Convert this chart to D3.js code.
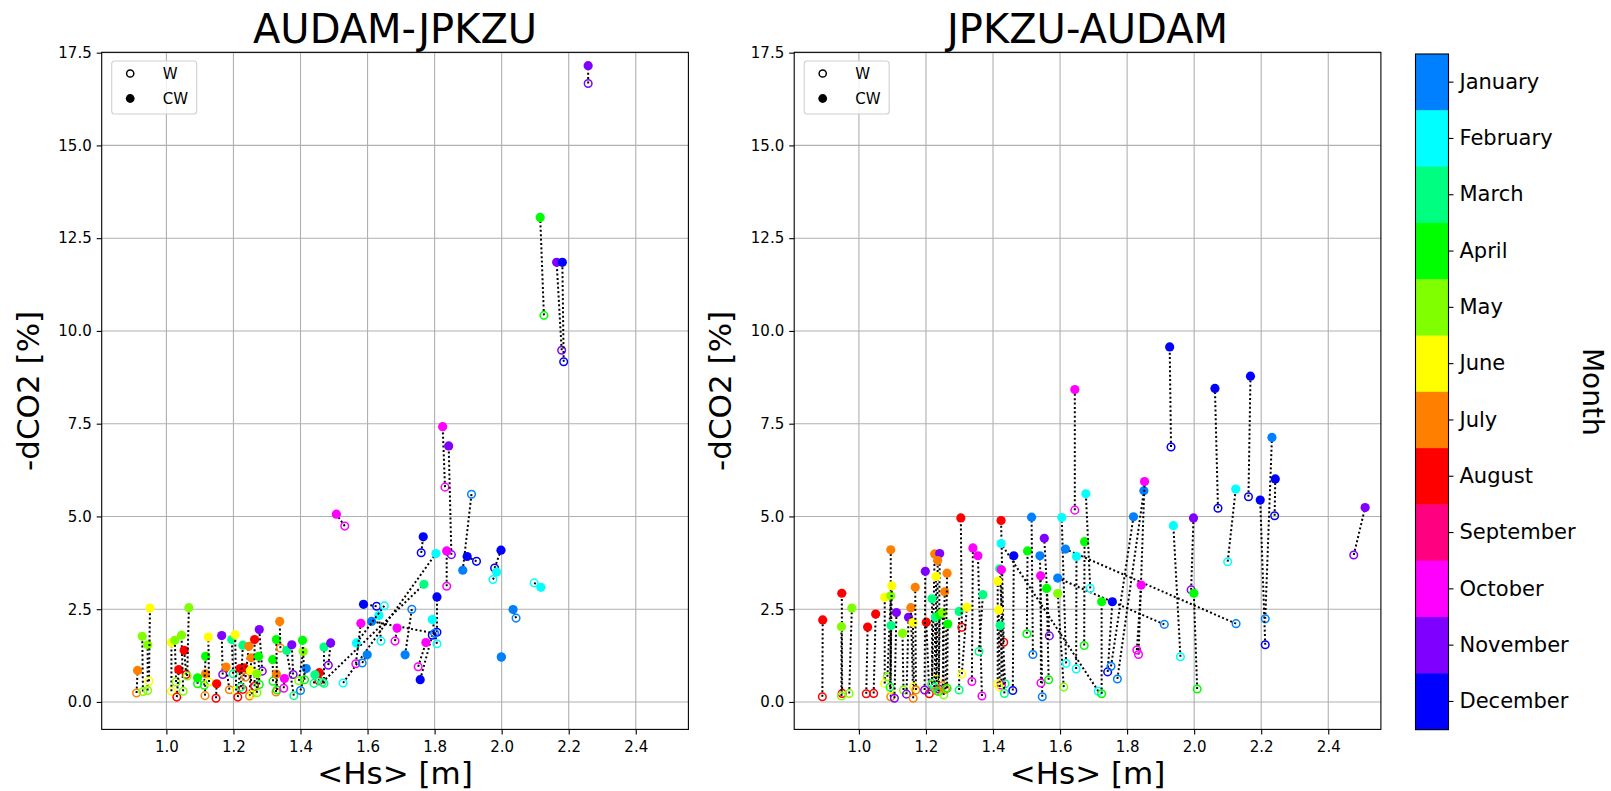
<!DOCTYPE html>
<html>
<head>
<meta charset="utf-8">
<script src="https://cdn.jsdelivr.net/npm/d3@7"></script>
<style>
    body { margin: 0; background: #fff; }
    text { font-family: "DejaVu Sans", sans-serif; }
</style>
</head>
<body>
<svg id="chart" width="1611" height="791"></svg>
<script>
// months in colorbar order, with their colours
var monthNames = ["January", "February", "March", "April", "May", "June", "July",
                  "August", "September", "October", "November", "December"];
var monthColors = ["#0080ff", "#00ffff", "#00ff80", "#00ff00", "#80ff00", "#ffff00",
                   "#ff8000", "#ff0000", "#ff0080", "#ff00ff", "#8000ff", "#0000ff"];

var xTicks = [1.0, 1.2, 1.4, 1.6, 1.8, 2.0, 2.2, 2.4];
var yTicks = [0, 2.5, 5, 7.5, 10, 12.5, 15, 17.5];

// AUDAM-JPKZU : month, <Hs> and -dCO2 for W (open) and CW (filled)
var monthA = [7, 5, 5, 6, 6, 5, 8, 5, 8, 5, 4, 7, 4, 6, 8, 11, 7, 3, 6, 8, 8, 3, 7, 7, 6,
              8, 11, 4, 5, 4, 7, 4, 7, 10, 3, 11, 1, 5, 4, 8, 3, 3, 11, 10, 10, 11, 1, 12,
              2, 10, 12, 12, 2, 2, 1, 1, 3, 12, 2, 12, 1, 12, 2, 2, 1, 10, 10, 1, 10, 4,
              11, 12, 11];
var hsWA = [0.911, 0.930, 0.944, 0.948, 1.015, 1.029, 1.031, 1.050, 1.059, 1.062, 1.093,
            1.115, 1.113, 1.127, 1.148, 1.168, 1.188, 1.199, 1.208, 1.213, 1.228, 1.222,
            1.236, 1.248, 1.256, 1.263, 1.286, 1.277, 1.270, 1.318, 1.327, 1.330, 1.340,
            1.350, 1.380, 1.378, 1.400, 1.395, 1.412, 1.455, 1.440, 1.470, 1.483, 1.532,
            1.831, 1.850, 1.910, 1.760, 1.527, 1.836, 1.925, 1.979, 1.974, 2.097, 2.043,
            1.999, 1.465, 1.807, 1.807, 1.793, 1.800, 1.627, 1.640, 1.650, 1.732, 1.565,
            1.682, 1.584, 1.751, 2.126, 2.179, 2.185, 2.258];
var dco2WA = [0.24, 0.28, 0.31, 0.56, 0.29, 0.54, 0.13, 0.29, 0.74, 0.70, 0.49, 0.17, 0.45,
              0.54, 0.10, 0.74, 0.33, 0.76, 0.31, 0.13, 0.34, 0.40, 0.67, 0.16, 0.21, 0.42,
              0.83, 0.47, 0.25, 0.56, 0.27, 0.32, 1.45, 0.37, 0.17, 0.74, 0.31, 0.57, 0.60,
              0.57, 0.50, 0.50, 0.99, 4.74, 5.79, 3.97, 5.60, 4.02, 0.51, 3.12, 3.79, 3.61,
              3.30, 3.21, 2.26, 1.21, 0.53, 1.88, 1.57, 1.80, 1.85, 2.58, 1.64, 2.59, 2.50,
              1.03, 1.64, 1.05, 0.95, 10.42, 9.48, 9.17, 16.67];
var hsCWA = [0.914, 0.928, 0.944, 0.951, 1.015, 1.025, 1.037, 1.045, 1.053, 1.067, 1.093,
             1.117, 1.117, 1.125, 1.150, 1.165, 1.178, 1.195, 1.205, 1.220, 1.232, 1.228,
             1.246, 1.253, 1.250, 1.263, 1.277, 1.275, 1.270, 1.317, 1.328, 1.328, 1.338,
             1.352, 1.359, 1.374, 1.417, 1.408, 1.406, 1.456, 1.443, 1.470, 1.490, 1.507,
             1.824, 1.842, 1.884, 1.766, 1.804, 1.836, 1.897, 1.998, 1.985, 2.117, 2.034,
             1.999, 1.768, 1.807, 1.793, 1.757, 1.612, 1.588, 1.634, 1.567, 1.712, 1.580,
             1.688, 1.599, 1.774, 2.115, 2.164, 2.181, 2.258];
var dco2CWA = [0.85, 1.77, 1.54, 2.53, 1.60, 1.66, 0.87, 1.80, 1.39, 2.54, 0.65, 0.76, 1.23,
               1.75, 0.49, 1.79, 0.94, 1.68, 1.81, 0.90, 0.92, 1.53, 1.50, 1.19, 0.85, 1.68,
               1.95, 1.23, 0.76, 1.14, 0.75, 1.68, 2.17, 0.63, 1.39, 1.54, 0.90, 1.36, 1.66,
               0.79, 0.73, 1.48, 1.59, 5.06, 7.42, 6.90, 3.55, 4.45, 4.00, 4.07, 3.92, 4.09,
               3.50, 3.09, 2.49, 1.21, 3.17, 2.83, 2.22, 0.60, 2.17, 2.63, 2.33, 1.59, 1.27,
               2.12, 1.99, 1.27, 1.60, 13.06, 11.85, 11.85, 17.15];

// JPKZU-AUDAM
var monthB = [8, 8, 5, 5, 8, 8, 7, 6, 5, 6, 3, 11, 5, 11, 7, 6, 7, 8, 11, 7, 11, 7, 6, 3, 3,
              4, 5, 7, 7, 4, 3, 8, 6, 10, 10, 3, 8, 2, 3, 10, 6, 6, 3, 12, 4, 1, 11, 1, 10,
              4, 1, 5, 2, 1, 10, 2, 4, 2, 4, 12, 1, 1, 10, 10, 12, 2, 11, 4, 12, 2, 12, 1,
              12, 12, 11];
var hsWB = [0.891, 0.950, 0.948, 0.971, 1.022, 1.044, 1.095, 1.077, 1.085, 1.094, 1.093,
            1.106, 1.133, 1.142, 1.162, 1.164, 1.170, 1.210, 1.196, 1.218, 1.238, 1.232,
            1.230, 1.218, 1.225, 1.238, 1.253, 1.250, 1.258, 1.263, 1.299, 1.307, 1.307,
            1.337, 1.367, 1.358, 1.432, 1.714, 1.436, 1.425, 1.414, 1.420, 1.434, 1.459,
            1.501, 1.519, 1.568, 1.547, 1.543, 1.566, 1.911, 1.611, 1.618, 2.125, 1.644,
            1.648, 1.672, 1.690, 1.724, 1.742, 1.752, 1.771, 1.834, 1.829, 1.931, 1.959,
            1.991, 2.009, 2.071, 2.100, 2.162, 2.212, 2.240, 2.212, 2.476];
var dco2WB = [0.14, 0.23, 0.16, 0.23, 0.22, 0.23, 0.14, 0.50, 0.68, 0.34, 0.40, 0.10, 0.32,
              0.21, 0.10, 0.40, 0.32, 0.22, 0.32, 0.46, 0.35, 0.30, 0.61, 0.50, 0.40, 0.28,
              0.19, 0.44, 0.34, 0.37, 0.32, 2.01, 0.75, 0.55, 0.16, 1.36, 1.61, 0.29, 0.49,
              0.45, 0.49, 0.40, 0.23, 0.31, 1.84, 1.28, 1.78, 0.14, 0.51, 0.60, 2.09, 0.40,
              1.04, 2.11, 5.17, 0.89, 1.52, 3.06, 0.22, 0.81, 0.96, 0.62, 1.28, 1.40, 6.87,
              1.22, 3.02, 0.35, 5.22, 3.78, 5.53, 2.24, 5.02, 1.54, 3.96];
var hsCWB = [0.892, 0.949, 0.948, 0.979, 1.026, 1.050, 1.095, 1.077, 1.095, 1.098, 1.096,
             1.112, 1.130, 1.148, 1.155, 1.161, 1.168, 1.201, 1.198, 1.226, 1.241, 1.235,
             1.230, 1.218, 1.228, 1.241, 1.250, 1.256, 1.263, 1.265, 1.299, 1.304, 1.322,
             1.340, 1.355, 1.370, 1.424, 1.424, 1.420, 1.425, 1.414, 1.417, 1.421, 1.462,
             1.503, 1.515, 1.553, 1.540, 1.542, 1.560, 1.593, 1.593, 1.605, 1.616, 1.644,
             1.649, 1.673, 1.677, 1.724, 1.756, 1.819, 1.850, 1.852, 1.842, 1.927, 1.938,
             1.998, 1.999, 2.062, 2.124, 2.168, 2.232, 2.242, 2.197, 2.510];
var dco2CWB = [2.21, 2.93, 2.03, 2.53, 2.02, 2.37, 4.10, 2.82, 2.86, 3.13, 2.06, 2.41, 1.85,
               2.28, 2.54, 2.14, 3.09, 2.15, 3.52, 3.99, 4.00, 3.81, 3.38, 2.78, 2.28, 2.35,
               2.41, 2.97, 3.47, 2.10, 2.44, 4.96, 2.55, 4.15, 3.94, 2.89, 4.89, 4.27, 3.59,
               3.56, 3.25, 2.48, 2.06, 3.94, 4.07, 4.98, 4.41, 3.94, 3.40, 3.06, 3.34, 2.92,
               4.97, 4.12, 8.42, 3.92, 4.32, 5.61, 2.70, 2.70, 4.99, 5.69, 5.94, 3.15, 9.57,
               4.75, 4.96, 2.93, 8.45, 5.74, 8.78, 7.13, 6.01, 5.44, 5.24];

var svg = d3.select("#chart");

var plotTop = 52.3,
    plotBottom = 729.4,
    plotWidth = 586.7;

var x0 = d3.scaleLinear().domain([0.807, 2.557]);
var y = d3.scaleLinear().domain([-0.74, 17.51]).range([plotBottom, plotTop]);
var colorOf = function(m) { return monthColors[m - 1]; };

function drawPanel(left, title, months, hsW, dW, hsCW, dCW, clipId) {
    var x = x0.copy().range([left, left + plotWidth]);
    var g = svg.append("g");

    // grid
    g.append("g").selectAll("line").data(xTicks).enter().append("line")
        .attr("x1", function(d) { return x(d); }).attr("x2", function(d) { return x(d); })
        .attr("y1", plotTop).attr("y2", plotBottom)
        .attr("stroke", "#b0b0b0").attr("stroke-width", 1.1);
    g.append("g").selectAll("line").data(yTicks).enter().append("line")
        .attr("x1", left).attr("x2", left + plotWidth)
        .attr("y1", function(d) { return y(d); }).attr("y2", function(d) { return y(d); })
        .attr("stroke", "#b0b0b0").attr("stroke-width", 1.1);

    svg.append("clipPath").attr("id", clipId).append("rect")
        .attr("x", left).attr("y", plotTop).attr("width", plotWidth).attr("height", plotBottom - plotTop);

    var data = months.map(function(m, i) {
        return { m: m, xw: hsW[i], yw: dW[i], xc: hsCW[i], yc: dCW[i] };
    });

    var pairs = g.append("g").attr("clip-path", "url(#" + clipId + ")")
        .selectAll("g").data(data).enter().append("g");

    pairs.append("line")
        .attr("x1", function(d) { return x(d.xw); })
        .attr("y1", function(d) { return y(d.yw); })
        .attr("x2", function(d) { return x(d.xc); })
        .attr("y2", function(d) { return y(d.yc); })
        .attr("stroke", "black")
        .attr("stroke-width", 2)
        .attr("stroke-dasharray", "2 2.4");

    pairs.append("circle")
        .attr("cx", function(d) { return x(d.xw); })
        .attr("cy", function(d) { return y(d.yw); })
        .attr("r", 3.8)
        .attr("fill", "none")
        .attr("stroke", function(d) { return colorOf(d.m); })
        .attr("stroke-width", 1.5);

    pairs.append("circle")
        .attr("cx", function(d) { return x(d.xc); })
        .attr("cy", function(d) { return y(d.yc); })
        .attr("r", 4.6)
        .attr("fill", function(d) { return colorOf(d.m); });

    // axes
    var xAxis = g.append("g").attr("transform", "translate(0," + plotBottom + ")")
        .call(d3.axisBottom(x).tickValues(xTicks).tickFormat(d3.format(".1f"))
              .tickSize(5).tickPadding(7));
    var yAxis = g.append("g").attr("transform", "translate(" + left + ",0)")
        .call(d3.axisLeft(y).tickValues(yTicks).tickFormat(d3.format(".1f"))
              .tickSize(5).tickPadding(5));
    [xAxis, yAxis].forEach(function(a) {
        a.select(".domain").remove();
        a.selectAll("text").attr("font-size", 15).attr("font-family", "DejaVu Sans").attr("fill", "black");
        a.selectAll("line").attr("stroke", "black").attr("stroke-width", 1.1);
    });

    g.append("rect")
        .attr("x", left).attr("y", plotTop)
        .attr("width", plotWidth).attr("height", plotBottom - plotTop)
        .attr("fill", "none").attr("stroke", "black").attr("stroke-width", 1.1);

    g.append("text")
        .attr("x", left + plotWidth / 2).attr("y", 43)
        .attr("text-anchor", "middle").attr("font-size", 40)
        .text(title);

    g.append("text")
        .attr("x", left + plotWidth / 2).attr("y", 784)
        .attr("text-anchor", "middle").attr("font-size", 31)
        .text("<Hs> [m]");

    g.append("text")
        .attr("transform", "translate(" + (left - 63) + "," + ((plotTop + plotBottom) / 2) + ") rotate(-90)")
        .attr("text-anchor", "middle").attr("font-size", 31)
        .text("-dCO2 [%]");

    // legend
    var lg = g.append("g").attr("transform", "translate(" + (left + 10) + "," + (plotTop + 8.7) + ")");
    lg.append("rect")
        .attr("width", 85).attr("height", 53).attr("rx", 3)
        .attr("fill", "white").attr("fill-opacity", 0.8)
        .attr("stroke", "#d0d0d0").attr("stroke-width", 1.1);
    lg.append("circle").attr("cx", 18.5).attr("cy", 12.5).attr("r", 3.6)
        .attr("fill", "none").attr("stroke", "black").attr("stroke-width", 1.5);
    lg.append("circle").attr("cx", 18.5).attr("cy", 37.5).attr("r", 4.4).attr("fill", "black");
    lg.append("text").attr("x", 51).attr("y", 12.5).attr("dy", "0.36em").attr("font-size", 15).text("W");
    lg.append("text").attr("x", 51).attr("y", 37.5).attr("dy", "0.36em").attr("font-size", 15).text("CW");
}

drawPanel(101.7, "AUDAM-JPKZU", monthA, hsWA, dco2WA, hsCWA, dco2CWA, "clipA");
drawPanel(794.2, "JPKZU-AUDAM", monthB, hsWB, dco2WB, hsCWB, dco2CWB, "clipB");

// colorbar
var cbLeft = 1415.5, cbWidth = 33, cbTop = 54, cbBottom = 729.6;
var cbScale = d3.scaleBand().domain(monthNames).range([cbTop, cbBottom]);
var cb = svg.append("g");
cb.selectAll("rect.band").data(monthNames).enter().append("rect")
    .attr("class", "band")
    .attr("x", cbLeft).attr("y", function(d) { return cbScale(d); })
    .attr("width", cbWidth).attr("height", cbScale.bandwidth() + 0.5)
    .attr("fill", function(d, i) { return monthColors[i]; });
cb.append("rect")
    .attr("x", cbLeft).attr("y", cbTop).attr("width", cbWidth).attr("height", cbBottom - cbTop)
    .attr("fill", "none").attr("stroke", "black").attr("stroke-width", 1.1);
var cbAxis = cb.append("g").attr("transform", "translate(" + (cbLeft + cbWidth) + ",0)")
    .call(d3.axisRight(cbScale).tickSize(5).tickPadding(6));
cbAxis.select(".domain").remove();
cbAxis.selectAll("text").attr("font-size", 21).attr("font-family", "DejaVu Sans").attr("fill", "black");
cbAxis.selectAll("line").attr("stroke", "black").attr("stroke-width", 1.1);

cb.append("text")
    .attr("transform", "translate(1583," + ((cbTop + cbBottom) / 2) + ") rotate(90)")
    .attr("text-anchor", "middle").attr("font-size", 28)
    .text("Month");
</script>
</body>
</html>
